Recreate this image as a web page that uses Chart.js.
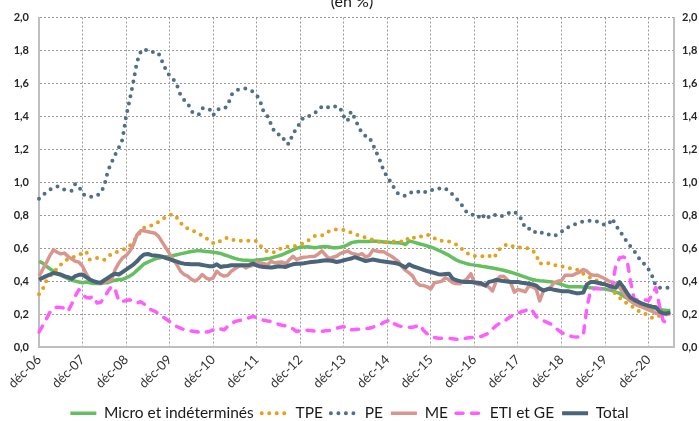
<!DOCTYPE html>
<html><head><meta charset="utf-8">
<script src="https://cdn.jsdelivr.net/npm/chart.js@4.4.1/dist/chart.umd.min.js"></script>
<style>html,body{margin:0;padding:0;background:#fff;}#wrap{width:699px;height:421px;position:relative;}</style>
</head><body><div id="wrap"><canvas id="c" width="699" height="421"></canvas></div>
<script>
const titleText = '(en %)';
const monthNames = ['janv','févr','mars','avr','mai','juin','juil','août','sept','oct','nov','déc'];
// categories: monthly from déc-06 to juil-21
const categories = ['déc-06'];
for (let y = 7; y <= 21; y++) {
  for (let m = 0; m < 12; m++) {
    if (y === 21 && m > 6) break;
    categories.push(monthNames[m] + '-' + String(y).padStart(2, '0'));
  }
}
const tickLabels = ['déc-06','déc-07','déc-08','déc-09','déc-10','déc-11','déc-12','déc-13','déc-14','déc-15','déc-16','déc-17','déc-18','déc-19','déc-20'];
const yTicks = [0,0.2,0.4,0.6,0.8,1.0,1.2,1.4,1.6,1.8,2.0];

const micro = [
0.52,0.51,0.49,0.475,0.46,0.447,0.435,0.425,0.415,0.405,
0.40,0.395,0.39,0.395,0.39,0.385,0.385,0.385,0.39,0.39,
0.40,0.405,0.41,0.41,0.42,0.43,0.445,0.465,0.485,0.505,
0.515,0.525,0.535,0.54,0.545,0.548,0.55,0.555,0.56,0.565,
0.57,0.575,0.58,0.583,0.585,0.583,0.58,0.578,0.575,0.572,
0.568,0.56,0.553,0.545,0.538,0.532,0.528,0.527,0.525,0.525,
0.528,0.53,0.532,0.535,0.54,0.547,0.553,0.56,0.57,0.58,
0.59,0.60,0.605,0.607,0.608,0.606,0.603,0.605,0.608,0.61,
0.607,0.603,0.603,0.605,0.61,0.62,0.632,0.638,0.64,0.64,
0.64,0.641,0.643,0.642,0.64,0.638,0.636,0.634,0.633,0.633,
0.63,0.622,0.643,0.638,0.632,0.625,0.62,0.613,0.607,0.598,
0.588,0.578,0.567,0.556,0.542,0.528,0.518,0.512,0.505,0.50,
0.497,0.494,0.49,0.487,0.483,0.479,0.475,0.47,0.466,0.46,
0.454,0.447,0.44,0.432,0.424,0.416,0.41,0.405,0.402,0.40,
0.398,0.396,0.392,0.387,0.38,0.372,0.366,0.366,0.366,0.365,
0.364,0.363,0.36,0.358,0.356,0.354,0.352,0.347,0.342,0.333,
0.325,0.31,0.298,0.28,0.265,0.255,0.248,0.243,0.24,0.236,
0.232,0.228,0.224,0.222,0.222];
const tpe = [
0.32,0.35,0.40,0.43,0.455,0.475,0.50,0.52,0.535,0.54,
0.55,0.56,0.57,0.58,0.53,0.535,0.54,0.535,0.53,0.55,
0.565,0.575,0.58,0.588,0.60,0.615,0.64,0.67,0.70,0.725,
0.735,0.738,0.745,0.76,0.775,0.79,0.80,0.806,0.785,0.755,
0.73,0.72,0.71,0.70,0.69,0.675,0.662,0.645,0.632,0.628,
0.645,0.658,0.664,0.655,0.645,0.645,0.645,0.645,0.645,0.645,
0.643,0.615,0.595,0.578,0.575,0.576,0.59,0.603,0.607,0.61,
0.612,0.615,0.62,0.632,0.643,0.66,0.674,0.676,0.678,0.69,
0.704,0.71,0.714,0.712,0.71,0.70,0.695,0.685,0.678,0.67,
0.664,0.658,0.65,0.643,0.636,0.635,0.637,0.64,0.64,0.64,
0.64,0.64,0.668,0.665,0.66,0.668,0.678,0.682,0.673,0.66,
0.646,0.645,0.645,0.64,0.631,0.622,0.607,0.585,0.57,0.558,
0.553,0.55,0.55,0.553,0.556,0.54,0.56,0.595,0.612,0.622,
0.62,0.605,0.604,0.604,0.603,0.598,0.588,0.56,0.505,0.512,
0.51,0.505,0.495,0.498,0.49,0.484,0.48,0.475,0.47,0.465,
0.445,0.43,0.42,0.41,0.40,0.39,0.38,0.37,0.345,0.318,
0.30,0.28,0.265,0.253,0.238,0.222,0.21,0.202,0.19,0.176,
0.18,0.19,0.195,0.198,0.20];
const pe = [
0.90,0.92,0.94,0.955,0.965,0.975,0.97,0.955,0.95,0.948,
0.99,0.975,0.93,0.915,0.912,0.912,0.92,0.935,0.98,1.07,
1.12,1.168,1.21,1.26,1.40,1.50,1.61,1.73,1.79,1.81,
1.795,1.787,1.795,1.78,1.73,1.68,1.645,1.625,1.59,1.53,
1.50,1.48,1.43,1.415,1.41,1.45,1.447,1.443,1.406,1.44,
1.447,1.447,1.465,1.53,1.55,1.563,1.565,1.569,1.56,1.549,
1.53,1.49,1.42,1.40,1.35,1.30,1.29,1.284,1.234,1.234,
1.30,1.32,1.366,1.396,1.40,1.405,1.42,1.437,1.46,1.462,
1.451,1.455,1.464,1.45,1.40,1.37,1.43,1.39,1.34,1.30,
1.28,1.275,1.23,1.18,1.13,1.07,1.03,1.00,0.96,0.93,
0.92,0.918,0.93,0.945,0.945,0.94,0.933,0.95,0.953,0.953,
0.96,0.968,0.962,0.945,0.925,0.90,0.88,0.845,0.815,0.805,
0.80,0.785,0.81,0.775,0.79,0.806,0.80,0.79,0.80,0.81,
0.818,0.822,0.80,0.775,0.72,0.718,0.718,0.69,0.69,0.697,
0.69,0.676,0.675,0.684,0.70,0.72,0.728,0.74,0.747,0.755,
0.763,0.765,0.767,0.767,0.76,0.75,0.74,0.745,0.78,0.735,
0.71,0.67,0.64,0.61,0.585,0.55,0.52,0.50,0.47,0.43,
0.37,0.36,0.36,0.36,0.36];
const me = [
0.43,0.47,0.51,0.555,0.59,0.575,0.565,0.57,0.55,0.535,
0.52,0.515,0.49,0.445,0.41,0.40,0.39,0.385,0.395,0.40,
0.41,0.47,0.51,0.54,0.555,0.58,0.62,0.68,0.705,0.705,
0.70,0.695,0.69,0.67,0.635,0.60,0.565,0.53,0.50,0.46,
0.44,0.43,0.41,0.40,0.415,0.44,0.42,0.41,0.42,0.46,
0.44,0.43,0.435,0.46,0.475,0.49,0.495,0.48,0.49,0.496,
0.516,0.51,0.505,0.50,0.52,0.51,0.515,0.516,0.505,0.53,
0.55,0.53,0.54,0.545,0.547,0.55,0.551,0.565,0.584,0.557,
0.537,0.545,0.551,0.567,0.575,0.584,0.57,0.565,0.557,0.567,
0.547,0.555,0.588,0.583,0.578,0.578,0.565,0.552,0.537,0.52,
0.49,0.465,0.45,0.43,0.39,0.375,0.373,0.365,0.353,0.39,
0.394,0.40,0.42,0.408,0.39,0.385,0.384,0.40,0.415,0.445,
0.39,0.38,0.378,0.373,0.363,0.34,0.40,0.428,0.43,0.41,
0.39,0.333,0.35,0.343,0.335,0.37,0.365,0.353,0.28,0.34,
0.35,0.363,0.39,0.40,0.404,0.435,0.435,0.435,0.445,0.455,
0.47,0.46,0.44,0.435,0.435,0.425,0.414,0.40,0.394,0.385,
0.36,0.33,0.30,0.28,0.265,0.251,0.245,0.235,0.225,0.216,
0.205,0.20,0.20,0.20,0.20];
const eti = [
0.09,0.13,0.17,0.21,0.236,0.242,0.24,0.236,0.216,0.26,
0.31,0.348,0.32,0.30,0.297,0.307,0.267,0.272,0.30,0.338,
0.368,0.35,0.277,0.277,0.282,0.287,0.275,0.267,0.275,0.26,
0.236,0.225,0.216,0.20,0.185,0.17,0.155,0.14,0.124,0.115,
0.104,0.10,0.097,0.094,0.09,0.084,0.09,0.094,0.104,0.114,
0.11,0.104,0.125,0.14,0.155,0.16,0.165,0.17,0.178,0.185,
0.178,0.168,0.162,0.158,0.155,0.145,0.138,0.132,0.128,0.124,
0.11,0.094,0.10,0.104,0.102,0.10,0.097,0.094,0.096,0.098,
0.10,0.107,0.114,0.12,0.124,0.104,0.104,0.106,0.108,0.11,
0.112,0.114,0.12,0.128,0.134,0.15,0.158,0.165,0.14,0.13,
0.124,0.122,0.12,0.12,0.126,0.134,0.10,0.08,0.063,0.058,
0.053,0.053,0.053,0.053,0.05,0.047,0.045,0.05,0.055,0.057,
0.058,0.061,0.065,0.075,0.085,0.11,0.13,0.145,0.15,0.17,
0.185,0.198,0.205,0.215,0.22,0.235,0.22,0.185,0.17,0.16,
0.15,0.14,0.125,0.104,0.088,0.078,0.068,0.063,0.06,0.06,
0.07,0.24,0.343,0.353,0.353,0.353,0.353,0.355,0.375,0.50,
0.54,0.547,0.537,0.40,0.292,0.286,0.286,0.286,0.282,0.32,
0.36,0.25,0.16,0.143,0.129];
const total = [
0.408,0.42,0.43,0.44,0.449,0.445,0.44,0.43,0.424,0.414,
0.43,0.438,0.44,0.424,0.41,0.40,0.393,0.39,0.405,0.42,
0.435,0.445,0.44,0.455,0.47,0.485,0.50,0.52,0.545,0.562,
0.565,0.557,0.556,0.553,0.548,0.54,0.533,0.525,0.518,0.51,
0.506,0.504,0.502,0.502,0.502,0.498,0.494,0.49,0.49,0.502,
0.486,0.49,0.492,0.496,0.496,0.496,0.496,0.496,0.498,0.506,
0.495,0.488,0.486,0.484,0.482,0.486,0.49,0.488,0.486,0.495,
0.502,0.505,0.506,0.508,0.512,0.516,0.518,0.52,0.524,0.527,
0.525,0.522,0.516,0.52,0.527,0.532,0.537,0.545,0.538,0.53,
0.522,0.526,0.531,0.527,0.522,0.519,0.516,0.513,0.51,0.505,
0.495,0.482,0.502,0.49,0.483,0.476,0.468,0.461,0.455,0.449,
0.442,0.44,0.443,0.445,0.415,0.405,0.40,0.395,0.394,0.394,
0.392,0.39,0.385,0.373,0.395,0.40,0.408,0.404,0.40,0.397,
0.394,0.394,0.394,0.39,0.387,0.384,0.38,0.373,0.355,0.343,
0.35,0.353,0.347,0.343,0.339,0.339,0.338,0.332,0.327,0.327,
0.33,0.38,0.394,0.394,0.39,0.384,0.38,0.373,0.365,0.36,
0.394,0.365,0.33,0.30,0.286,0.275,0.265,0.257,0.25,0.245,
0.241,0.215,0.205,0.204,0.21];

const FONT = 'Lato, "Open Sans", sans-serif';
const fmt = v => Number(v).toFixed(1).replace('.', ',');

const titlePlugin = {
  id: 'topTitle',
  afterDraw(chart) {
    const c = chart.ctx;
    c.save();
    c.font = '16px ' + FONT;
    c.fillStyle = '#1a1a1a';
    c.textAlign = 'center';
    c.textBaseline = 'alphabetic';
    c.fillText(titleText, 352, 6.5);
    c.restore();
  }
};

function ds(label, data, color, extra) {
  return Object.assign({
    label, data, borderColor: color, backgroundColor: color,
    borderWidth: 3.5, pointRadius: 0, tension: 0, fill: false,
    borderJoinStyle: 'round', borderCapStyle: 'butt', borderDash: []
  }, extra || {});
}

const yTickOpts = {
  stepSize: 0.2,
  callback: v => fmt(v),
  font: { family: FONT, size: 11, weight: 'bold' },
  color: '#262626'
};

const LEGEND_FONT = 15.5;
const LEGEND_PAD = 8;

new Chart(document.getElementById('c').getContext('2d'), {
  type: 'line',
  data: {
    labels: categories,
    datasets: [
      ds('Micro et indéterminés', micro, '#66BF5F', { order: 6 }),
      ds('TPE', tpe, '#E5A11C', { order: 5, borderWidth: 4, borderDash: [0, 7.5], borderCapStyle: 'round' }),
      ds('PE', pe, '#4F7088', { order: 4, borderWidth: 4, borderDash: [0, 7.5], borderCapStyle: 'round' }),
      ds('ME', me, '#D9968F', { order: 3 }),
      ds('ETI et GE', eti, '#FF5EFF', { order: 2, borderDash: [7, 8.5], borderCapStyle: 'round' }),
      ds('Total', total, '#4A6579', { order: 1, borderWidth: 4 })
    ]
  },
  plugins: [titlePlugin],
  options: {
    responsive: false,
    animation: false,
    devicePixelRatio: 1,
    layout: { padding: { top: 17.5, left: 0, right: 0, bottom: -10 } },
    plugins: {
      tooltip: { enabled: false },
      title: { display: false },
      legend: {
        position: 'bottom',
        labels: {
          usePointStyle: true,
          pointStyle: 'line',
          pointStyleWidth: 26,
          font: { family: FONT, size: LEGEND_FONT },
          color: '#1a1a1a',
          padding: LEGEND_PAD,
          sort: (a, b) => a.datasetIndex - b.datasetIndex,
          generateLabels: chart => {
            const items = Chart.defaults.plugins.legend.labels.generateLabels(chart);
            return items.map(it => {
              const d = chart.data.datasets[it.datasetIndex];
              it.lineDash = d.borderDash;
              it.lineCap = d.borderCapStyle;
              it.lineWidth = d.borderWidth;
              it.strokeStyle = d.borderColor;
              return it;
            });
          }
        }
      }
    },
    scales: {
      x: {
        type: 'category',
        offset: false,
        grid: {
          drawTicks: false,
          lineWidth: 1,
          color: c => (tickLabels.includes(categories[c.index]) ? '#9A9A9A' : 'rgba(0,0,0,0)')
        },
        border: { display: true, color: '#BFBFBF', width: 2, dash: [2, 2] },
        ticks: {
          autoSkip: false,
          maxRotation: 45,
          minRotation: 45,
          padding: 5,
          font: { family: FONT, size: 13 },
          color: '#333333',
          callback: function (v, i) { const l = categories[i]; return tickLabels.includes(l) ? l : ''; }
        },
        afterFit: s => { s.height = 421 + 10 - (LEGEND_FONT + LEGEND_PAD + 10) - 347; }
      },
      y: {
        position: 'left',
        min: 0, max: 2,
        afterBuildTicks: s => { s.ticks = yTicks.map(v => ({ value: v })); },
        grid: { drawTicks: false, color: '#9A9A9A', lineWidth: 1 },
        border: { display: true, color: '#BFBFBF', width: 2, dash: [2, 2] },
        ticks: Object.assign({ padding: 10 }, yTickOpts),
        afterFit: s => { s.width = 39; }
      },
      y2: {
        position: 'right',
        min: 0, max: 2,
        afterBuildTicks: s => { s.ticks = yTicks.map(v => ({ value: v })); },
        grid: { display: false, drawTicks: false },
        border: { display: true, color: '#BFBFBF', width: 2 },
        ticks: Object.assign({ padding: 8 }, yTickOpts),
        afterFit: s => { s.width = 25; }
      }
    }
  }
});
</script></body></html>
